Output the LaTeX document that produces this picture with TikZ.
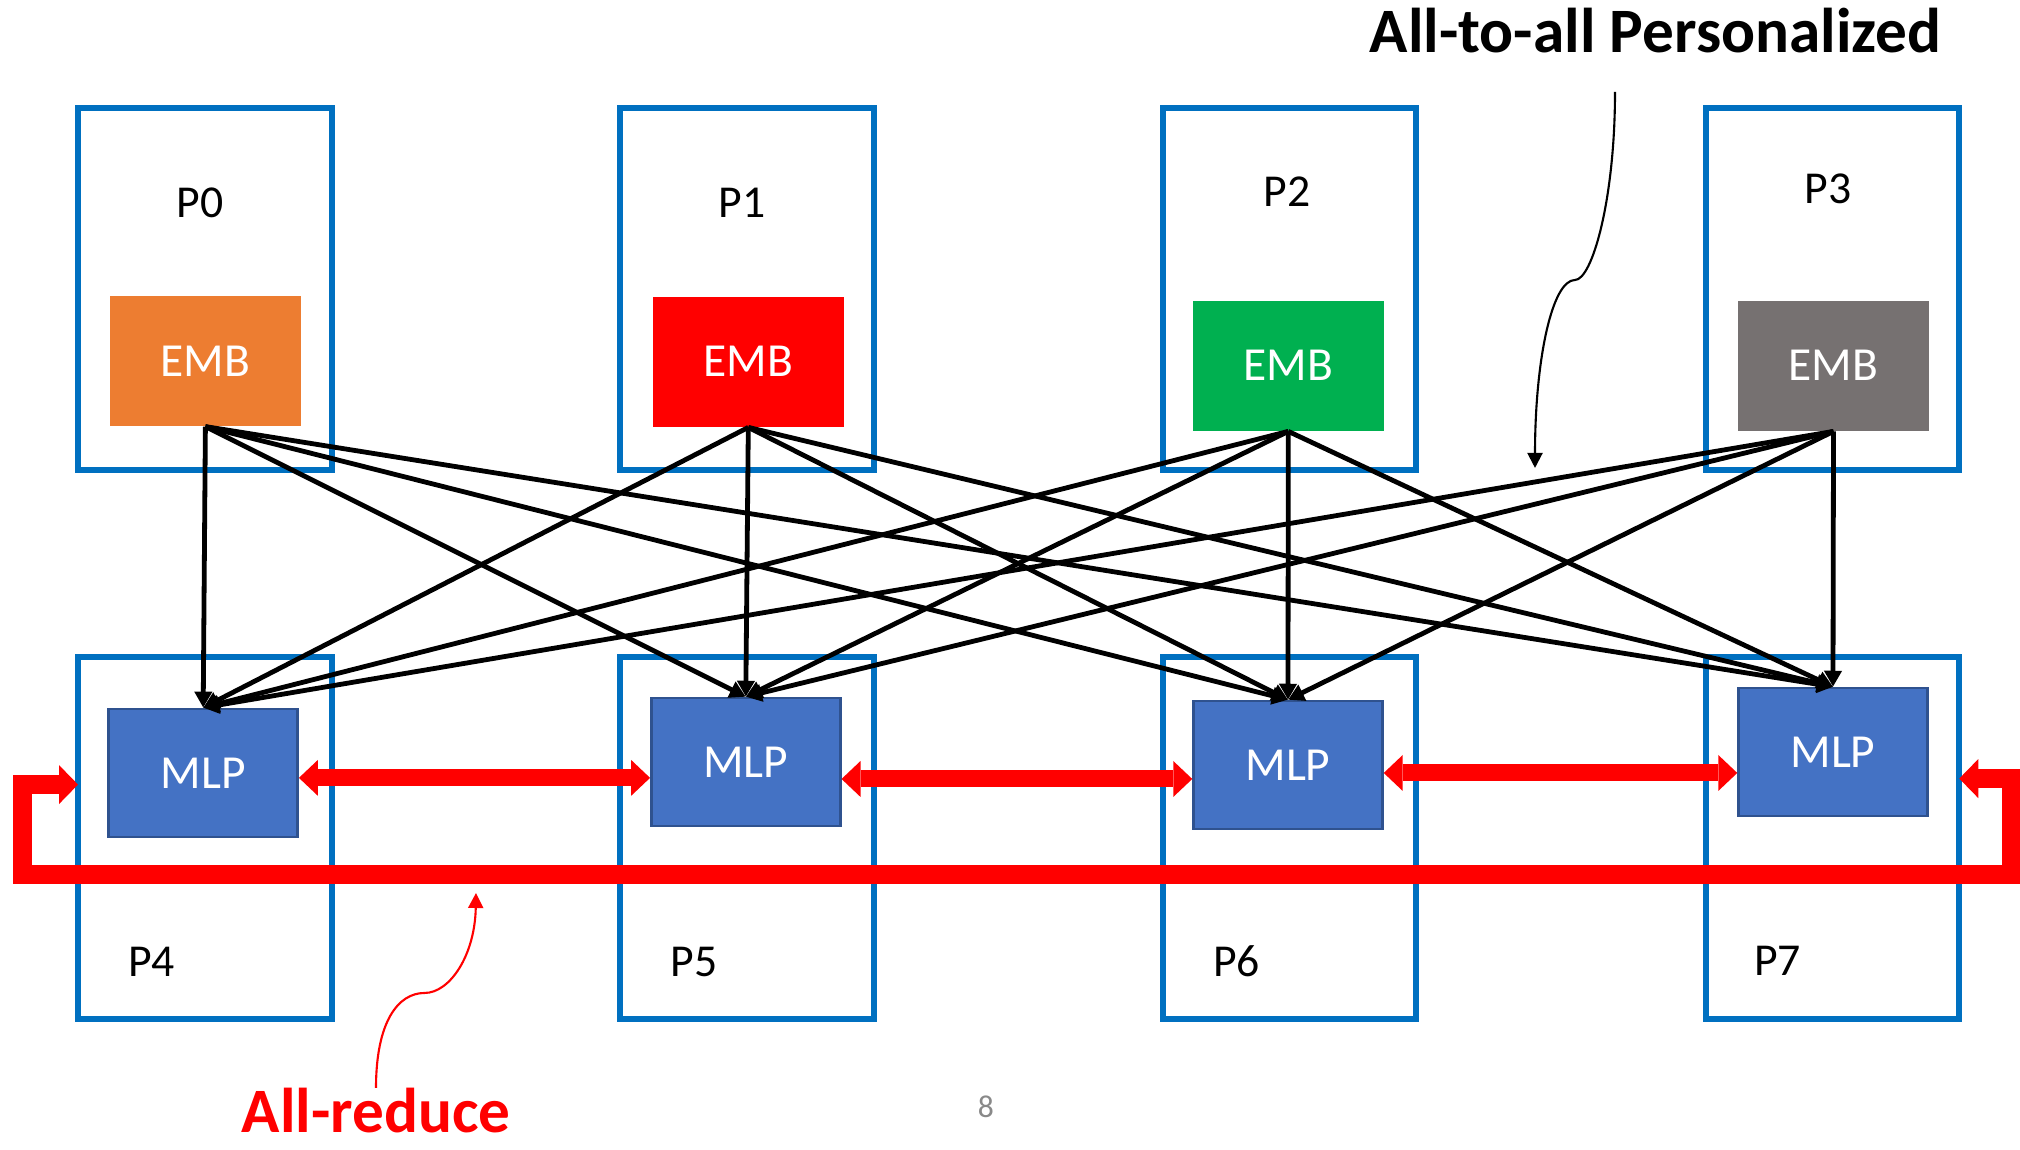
\documentclass[tikz,border=0pt]{standalone}
\usepackage{fontspec}
\setmainfont{Carlito}
\usepackage{xcolor}
\usepackage{tikz}
\usetikzlibrary{arrows.meta}
\definecolor{procblue}{RGB}{0, 112, 192}
\definecolor{emborange}{RGB}{237, 125, 49}
\definecolor{embred}{RGB}{255, 0, 0}
\definecolor{embgreen}{RGB}{0, 176, 80}
\definecolor{embgray}{RGB}{118, 113, 113}
\definecolor{mlpblue}{RGB}{68, 114, 196}
\definecolor{mlpborder}{RGB}{47, 82, 143}
\definecolor{reducered}{RGB}{255, 0, 0}
\definecolor{pagegray}{RGB}{137, 137, 137}

\begin{document}
\begin{tikzpicture}[
    proc/.style={rectangle, draw=procblue, line width=0.06cm, minimum width=2.535cm, minimum height=3.62cm, inner sep=0pt, outer sep=0pt},
    plabel/.style={font=\fontsize{13}{15}\selectfont, inner sep=0pt},
    emb/.style={rectangle, minimum width=1.91cm, minimum height=1.30cm, inner sep=0pt, text=white, font=\fontsize{13.5}{15}\selectfont},
    mlp/.style={rectangle, draw=mlpborder, line width=0.7pt, fill=mlpblue, minimum width=1.89cm, minimum height=1.28cm, inner sep=0pt, text=white, font=\fontsize{13.5}{15}\selectfont},
    a2a/.style={-{Triangle[length=1.6mm, width=1.7mm]}, line width=0.048cm},
    reduce/.style={{Triangle[length=1.9mm, width=3.6mm, line width=0pt]}-{Triangle[length=1.9mm, width=3.6mm, line width=0pt]}, draw=reducered, line width=0.17cm},
    ring/.style={{Triangle[length=1.9mm, width=3.9mm, line width=0pt]}-{Triangle[length=1.9mm, width=3.9mm, line width=0pt]}, draw=reducered, line width=0.19cm, line join=miter},
    callout/.style={-{Triangle[length=1.5mm, width=1.5mm]}, line width=0.6pt},
    heading/.style={font=\bfseries\fontsize{18}{22}\selectfont, inner sep=0pt}
]
    \useasboundingbox (0,0) rectangle (20.2,11.5);

    % Processes
    \node[proc] (p0) at (2.0475, 8.61) {};
    \node[proc] (p1) at (7.47, 8.61) {};
    \node[proc] (p2) at (12.893, 8.61) {};
    \node[proc] (p3) at (18.325, 8.61) {};
    \node[proc] (p4) at (2.0475, 3.124) {};
    \node[proc] (p5) at (7.47, 3.124) {};
    \node[proc] (p6) at (12.893, 3.124) {};
    \node[proc] (p7) at (18.325, 3.124) {};

    \node[plabel] (l0) at (2.00, 9.475) {P0};
    \node[plabel] (l1) at (7.42, 9.467) {P1};
    \node[plabel] (l2) at (12.87, 9.58) {P2};
    \node[plabel] (l3) at (18.28, 9.61) {P3};
    \node[plabel] (l4) at (1.517, 1.883) {P4};
    \node[plabel] (l5) at (6.943, 1.883) {P5};
    \node[plabel] (l6) at (12.365, 1.89) {P6};
    \node[plabel] (l7) at (17.775, 1.89) {P7};

    % Embeddings and MLPs
    \node[emb, fill=emborange] (emb0) at (2.054, 7.891) {EMB};
    \node[emb, fill=embred] (emb1) at (7.483, 7.883) {EMB};
    \node[emb, fill=embgreen] (emb2) at (12.883, 7.843) {EMB};
    \node[emb, fill=embgray] (emb3) at (18.335, 7.843) {EMB};
    \node[mlp] (mlp4) at (2.032, 3.771) {MLP};
    \node[mlp] (mlp5) at (7.458, 3.88) {MLP};
    \node[mlp] (mlp6) at (12.88, 3.85) {MLP};
    \node[mlp] (mlp7) at (18.33, 3.98) {MLP};

    % All-to-all
    \draw[a2a] (emb0.south) -- (mlp4.north);
    \draw[a2a] (emb0.south) -- (mlp5.north);
    \draw[a2a] (emb0.south) -- (mlp6.north);
    \draw[a2a] (emb0.south) -- (mlp7.north);
    \draw[a2a] (emb1.south) -- (mlp4.north);
    \draw[a2a] (emb1.south) -- (mlp5.north);
    \draw[a2a] (emb1.south) -- (mlp6.north);
    \draw[a2a] (emb1.south) -- (mlp7.north);
    \draw[a2a] (emb2.south) -- (mlp4.north);
    \draw[a2a] (emb2.south) -- (mlp5.north);
    \draw[a2a] (emb2.south) -- (mlp6.north);
    \draw[a2a] (emb2.south) -- (mlp7.north);
    \draw[a2a] (emb3.south) -- (mlp4.north);
    \draw[a2a] (emb3.south) -- (mlp5.north);
    \draw[a2a] (emb3.south) -- (mlp6.north);
    \draw[a2a] (emb3.south) -- (mlp7.north);

    % All-reduce
    \draw[reduce] ([yshift=-0.5mm]mlp4.east) -- ([yshift=-0.5mm]mlp4.east -| mlp5.west);
    \draw[reduce] ([yshift=-1.7mm]mlp5.east) -- ([yshift=-1.7mm]mlp5.east -| mlp6.west);
    \draw[reduce] ([yshift=-0.8mm]mlp6.east) -- ([yshift=-0.8mm]mlp6.east -| mlp7.west);
    \coordinate (ringR) at (20.11, 2.75);
    \coordinate (ringL) at (0.22, 2.75);
    \draw[ring] ([yshift=5.9mm]p7.east) -| (ringR) -- (ringL) |- ([yshift=5.3mm]p4.west);

    % Callouts
    \node[heading, anchor=base] (a2atitle) at (16.555, 10.97) {All-to-all Personalized};
    \node[heading, anchor=base, text=reducered] (reducetitle) at (3.76, 0.17) {All-reduce};
    \coordinate (a2aStart) at (16.15, 10.58);
    \coordinate (a2aKink) at (15.75, 8.70);
    \coordinate (a2aTip) at (15.35, 6.82);
    \draw[callout] (a2aStart) .. controls (16.15, 9.5) and (15.92, 8.70) .. (a2aKink) .. controls (15.52, 8.70) and (15.35, 7.9) .. (a2aTip);
    \coordinate (redStart) at (3.76, 0.62);
    \coordinate (redKink) at (4.245, 1.57);
    \coordinate (redTip) at (4.76, 2.57);
    \draw[callout, reducered] (redStart) .. controls (3.76, 1.28) and (3.98, 1.57) .. (redKink) .. controls (4.50, 1.57) and (4.75, 1.95) .. (redTip);

    \node[font=\fontsize{9}{11}\selectfont, text=pagegray] (page) at (9.86, 0.43) {8};
\end{tikzpicture}
\end{document}
